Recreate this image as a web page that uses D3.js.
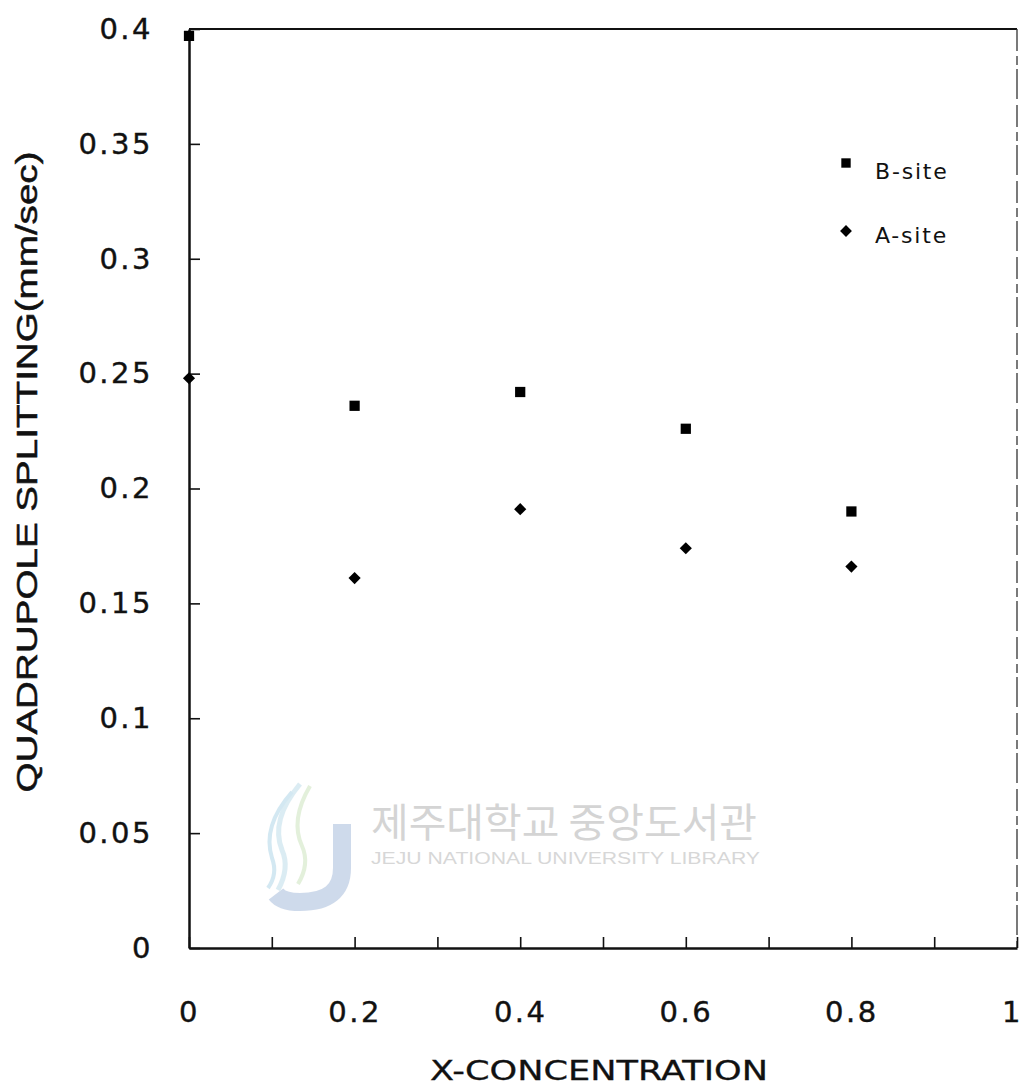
<!DOCTYPE html>
<html>
<head>
<meta charset="utf-8">
<script src="https://cdn.jsdelivr.net/npm/d3@7"></script>
<style>
  html, body { margin: 0; padding: 0; background: #fff; }
  svg { display: block; }
  text { font-family: "DejaVu Sans", Verdana, sans-serif; fill: #111; }
</style>
</head>
<body>
<svg id="chart" width="1023" height="1092"></svg>
<script>
// Quadrupole splitting vs. x-concentration for the two iron sites
const concentrations = [0, 0.2, 0.4, 0.6, 0.8];
const bSite = [0.397, 0.236, 0.242, 0.226, 0.190];
const aSite = [0.248, 0.161, 0.191, 0.174, 0.166];

const xTickValues = [0, 0.1, 0.2, 0.3, 0.4, 0.5, 0.6, 0.7, 0.8, 0.9, 1];
const xTickLabels = ["0", "", "0.2", "", "0.4", "", "0.6", "", "0.8", "", "1"];
const yTickValues = [0, 0.05, 0.1, 0.15, 0.2, 0.25, 0.3, 0.35, 0.4];
const yTickLabels = ["0", "0.05", "0.1", "0.15", "0.2", "0.25", "0.3", "0.35", "0.4"];

const seriesNames = ["B-site", "A-site"];
const xTitle = "X-CONCENTRATION";
const yTitle = "QUADRUPOLE SPLITTING(mm/sec)";

const svg = d3.select("#chart");
const plotLeft = 189, plotRight = 1017, plotTop = 29, plotBottom = 948;

const x = d3.scaleLinear().domain([0, 1]).range([plotLeft, plotRight]);
const y = d3.scaleLinear().domain([0, 0.4]).range([plotBottom, plotTop]);

const tickFont = "'DejaVu Sans', Verdana, sans-serif";

// faint library watermark behind the plot
const wm = svg.append("g").attr("opacity", 0.5);
wm.append("path")
  .attr("d", "M342,824 L342,868 Q342,902 300,902 Q282,902 276,894")
  .attr("fill", "none").attr("stroke", "#9fb6d8").attr("stroke-width", 18);
wm.append("path")
  .attr("d", "M300,784 Q270,820 282,850 Q290,868 278,890")
  .attr("fill", "none").attr("stroke", "#b9dbe8").attr("stroke-width", 5);
wm.append("path")
  .attr("d", "M310,786 Q290,820 302,846 Q310,864 298,884")
  .attr("fill", "none").attr("stroke", "#c8e2b8").attr("stroke-width", 4);
wm.append("path")
  .attr("d", "M292,792 Q262,826 272,858 Q278,874 268,888")
  .attr("fill", "none").attr("stroke", "#a9d2e6").attr("stroke-width", 4);
wm.append("text")
  .attr("x", 371).attr("y", 837)
  .attr("textLength", 386).attr("lengthAdjust", "spacingAndGlyphs")
  .style("font-family", "'Noto Sans CJK KR', sans-serif")
  .style("font-size", "40px").style("fill", "#ababab")
  .text("제주대학교 중앙도서관");
wm.append("text")
  .attr("x", 371).attr("y", 864)
  .attr("textLength", 389).attr("lengthAdjust", "spacingAndGlyphs")
  .style("font-family", "'Liberation Sans', Arial, sans-serif")
  .style("font-size", "16px").style("fill", "#b0b0b0")
  .text("JEJU NATIONAL UNIVERSITY  LIBRARY");

// frame: top and dashed right edge
svg.append("line")
  .attr("x1", x(0)).attr("x2", x(1)).attr("y1", y(0.4)).attr("y2", y(0.4))
  .attr("stroke", "#111").attr("stroke-width", 2);
svg.append("line")
  .attr("x1", x(1)).attr("x2", x(1)).attr("y1", y(0.4)).attr("y2", y(0))
  .attr("stroke", "#333").attr("stroke-width", 1.3)
  .attr("stroke-dasharray", "22,5,9,4,30,6");

// x axis with inward ticks
const xAxis = d3.axisBottom(x)
  .tickValues(xTickValues)
  .tickFormat((d, i) => xTickLabels[i])
  .tickSizeInner(-11).tickSizeOuter(0).tickPadding(53);
const gx = svg.append("g").attr("transform", `translate(0,${plotBottom})`).call(xAxis);
gx.select(".domain").attr("stroke", "#111").attr("stroke-width", 2.5);
gx.selectAll(".tick line").attr("stroke", "#111").attr("stroke-width", 1.6);
gx.selectAll(".tick text")
  .style("font-size", "29px").style("font-family", tickFont)
  .style("letter-spacing", "2.5px")
  .style("stroke", "#111").style("stroke-width", 0.4)
  .attr("dx", (d, i) => i === xTickValues.length - 1 ? -5 : 0)
  .attr("fill", "#111");

// y axis with inward ticks
const yAxis = d3.axisLeft(y)
  .tickValues(yTickValues)
  .tickFormat((d, i) => yTickLabels[i])
  .tickSizeInner(-11).tickSizeOuter(0).tickPadding(36);
const gy = svg.append("g").attr("transform", `translate(${plotLeft},0)`).call(yAxis);
gy.select(".domain").attr("stroke", "#111").attr("stroke-width", 2.5);
gy.selectAll(".tick line").attr("stroke", "#111").attr("stroke-width", 1.6);
gy.selectAll(".tick text")
  .style("font-size", "29px").style("font-family", tickFont)
  .style("letter-spacing", "2.5px")
  .style("stroke", "#111").style("stroke-width", 0.4)
  .attr("fill", "#111");

// axis titles
svg.append("text")
  .attr("x", 599).attr("y", 1080)
  .attr("text-anchor", "middle")
  .attr("textLength", 338).attr("lengthAdjust", "spacingAndGlyphs")
  .style("font-size", "26px")
  .style("stroke", "#111").style("stroke-width", 0.3)
  .text(xTitle);
svg.append("text")
  .attr("transform", "translate(37,472) rotate(-90)")
  .attr("text-anchor", "middle")
  .attr("textLength", 641).attr("lengthAdjust", "spacingAndGlyphs")
  .style("font-family", "'Liberation Sans', Arial, sans-serif")
  .style("font-size", "29px")
  .style("stroke", "#111").style("stroke-width", 0.5)
  .text(yTitle);

// markers
const square = d3.symbol().type(d3.symbolSquare).size(105);
const diamond = d3.symbol().type(d3.symbolSquare).size(74);

svg.append("g").selectAll("path")
  .data(concentrations.map((c, i) => [c, bSite[i]]))
  .join("path")
  .attr("d", square)
  .attr("transform", d => `translate(${x(d[0])},${y(d[1])})`)
  .attr("fill", "#000");

svg.append("g").selectAll("path")
  .data(concentrations.map((c, i) => [c, aSite[i]]))
  .join("path")
  .attr("d", diamond)
  .attr("transform", d => `translate(${x(d[0])},${y(d[1])}) rotate(45)`)
  .attr("fill", "#000");

// legend
const legend = svg.append("g");
legend.append("path").attr("d", d3.symbol().type(d3.symbolSquare).size(88))
  .attr("transform", "translate(846,163)").attr("fill", "#000");
legend.append("path").attr("d", d3.symbol().type(d3.symbolSquare).size(70))
  .attr("transform", "translate(846,231) rotate(45)").attr("fill", "#000");
legend.append("text").attr("x", 875).attr("y", 179)
  .style("font-size", "22px").style("letter-spacing", "1.8px").text(seriesNames[0]);
legend.append("text").attr("x", 875).attr("y", 243)
  .style("font-size", "22px").style("letter-spacing", "1.8px").text(seriesNames[1]);
</script>
</body>
</html>
